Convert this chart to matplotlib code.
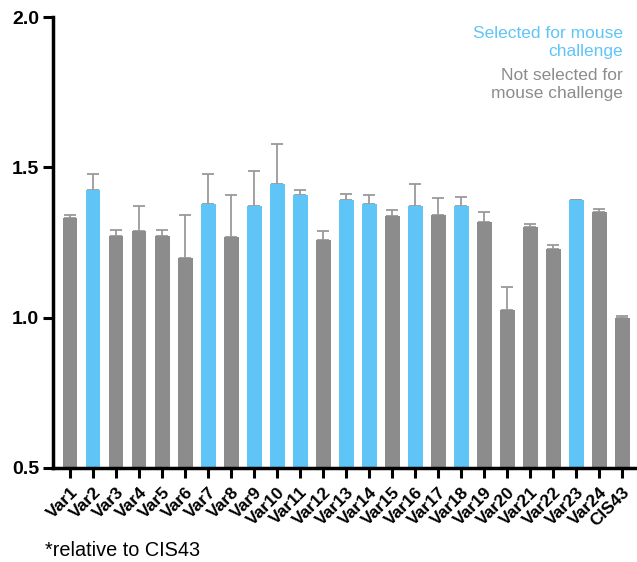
import numpy as np
import matplotlib.pyplot as plt

# Relative signal per variant, normalised to CIS43
labels = ["Var1", "Var2", "Var3", "Var4", "Var5", "Var6", "Var7", "Var8", "Var9",
          "Var10", "Var11", "Var12", "Var13", "Var14", "Var15", "Var16", "Var17",
          "Var18", "Var19", "Var20", "Var21", "Var22", "Var23", "Var24", "CIS43"]
means = [1.33, 1.423, 1.27, 1.287, 1.273, 1.20, 1.377, 1.267, 1.37,
         1.443, 1.407, 1.257, 1.393, 1.377, 1.337, 1.37, 1.343,
         1.37, 1.317, 1.027, 1.303, 1.227, 1.39, 1.353, 1.0]
err_up = [0.01, 0.054, 0.023, 0.086, 0.02, 0.143, 0.10, 0.14, 0.117,
          0.134, 0.016, 0.03, 0.017, 0.03, 0.02, 0.073, 0.054,
          0.03, 0.033, 0.076, 0.01, 0.016, 0.003, 0.01, 0.006]
selected = [0, 1, 0, 0, 0, 0, 1, 0, 1, 1, 1, 0, 1, 1, 0, 1, 0, 1, 0, 0, 0, 0, 1, 0, 0]

blue = "#5fc5f7"
grey = "#8c8c8c"
colors = [blue if s else grey for s in selected]

plt.rcParams['font.family'] = ['Liberation Sans', 'DejaVu Sans']

fig = plt.figure(figsize=(6.37, 5.62), dpi=100)
ax = fig.add_axes([53 / 637, 94 / 562, 1 - 53 / 637, 451 / 562])

x = np.arange(len(labels))
ax.bar(x, means, width=0.65, color=colors, zorder=2)
ax.errorbar(x, means, yerr=[np.zeros(len(x)), err_up], fmt='none',
            ecolor="#9a9a9a", elinewidth=1.3, capsize=4, capthick=1.3, zorder=1)

ax.set_ylim(0.5, 2.0)
ax.set_xlim(-0.74, 24.65)
ax.set_yticks([0.5, 1.0, 1.5, 2.0])
ax.set_yticklabels(["0.5", "1.0", "1.5", "2.0"], fontsize=14, fontweight='bold')
ax.set_xticks(x)
ax.set_xticklabels(labels, rotation=45, ha='right', rotation_mode='anchor',
                   fontsize=12.5, fontweight='bold')

for side in ['top', 'right']:
    ax.spines[side].set_visible(False)
for side in ['left', 'bottom']:
    ax.spines[side].set_linewidth(2.5)
ax.tick_params(axis='both', direction='out', length=7, width=2.2, pad=3)
ax.tick_params(axis='x', pad=5)

# legend-like colour key, four evenly spaced lines
fig.text(623 / 637, 1 - 42.5 / 562, "Selected for mouse\nchallenge", color=blue,
         fontsize=12.5, ha='right', va='center', linespacing=1.2)
fig.text(623 / 637, 1 - 84.5 / 562, "Not selected for\nmouse challenge", color=grey,
         fontsize=12.5, ha='right', va='center', linespacing=1.2)
fig.text(45 / 637, 1 - 550 / 562, "*relative to CIS43", fontsize=14.3,
         ha='left', va='center')

fig.savefig("out.png", dpi=100)
